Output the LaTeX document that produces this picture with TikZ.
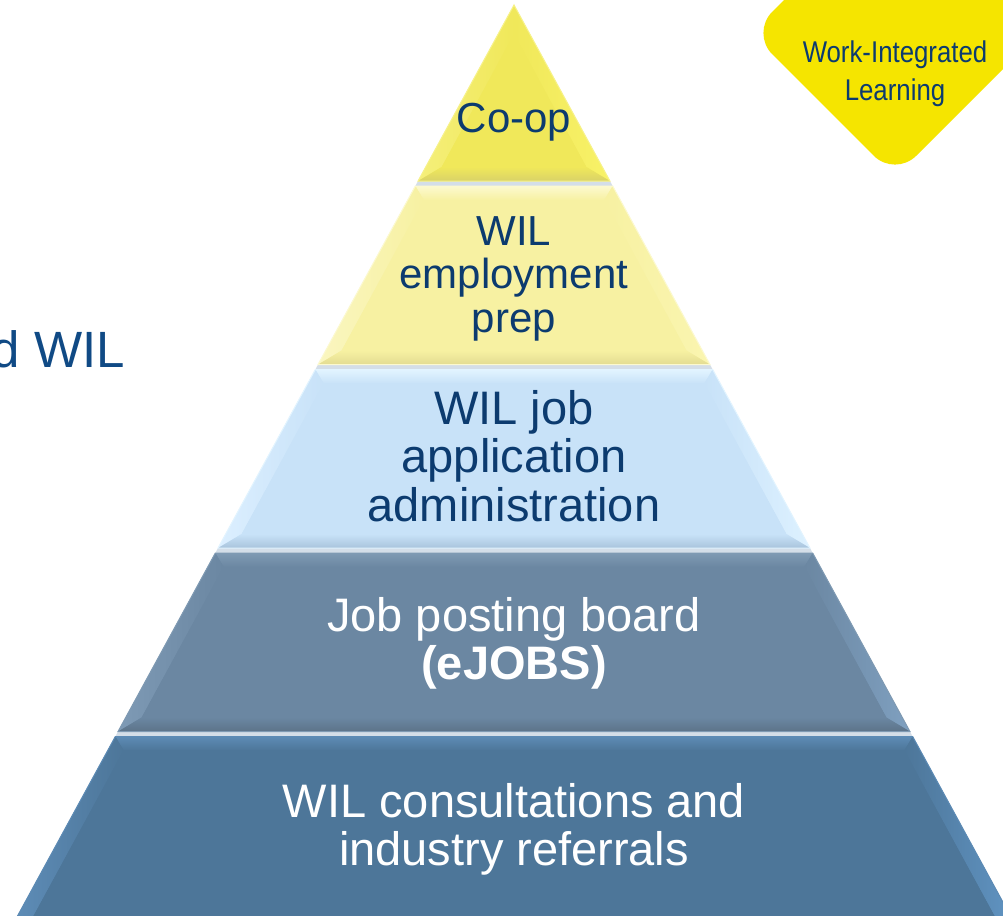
\documentclass[tikz,border=0pt]{standalone}
\usepackage{fontspec}
\setmainfont{Liberation Sans}
\newfontfamily\narrowsans[FakeStretch=0.86]{Liberation Sans}
\definecolor{navy}{HTML}{0C3B6F}
\definecolor{leftblue}{HTML}{104A85}
\definecolor{dyellow}{HTML}{F5E500}
% layer colours
\definecolor{cA}{HTML}{F0E85A}\definecolor{cAt}{HTML}{F7F28A}\definecolor{cAl}{HTML}{F5EF7A}\definecolor{cAr}{HTML}{F8F268}\definecolor{cAb}{HTML}{D9D268}
\definecolor{cB}{HTML}{F7F1A2}\definecolor{cBt}{HTML}{FCF9CF}\definecolor{cBl}{HTML}{FAF6C0}\definecolor{cBr}{HTML}{FAF5B0}\definecolor{cBb}{HTML}{E3DC92}
\definecolor{cC}{HTML}{C8E2F8}\definecolor{cCt}{HTML}{E2F4FF}\definecolor{cCl}{HTML}{DCEFFF}\definecolor{cCr}{HTML}{DDF1FF}\definecolor{cCb}{HTML}{A9C4DC}
\definecolor{cD}{HTML}{6B87A2}\definecolor{cDt}{HTML}{7F9AB3}\definecolor{cDl}{HTML}{7E9AB5}\definecolor{cDr}{HTML}{7FA0C0}\definecolor{cDb}{HTML}{5C7389}
\definecolor{cE}{HTML}{4D7699}\definecolor{cEt}{HTML}{5D8BB5}\definecolor{cEl}{HTML}{5E8DB8}\definecolor{cEr}{HTML}{6195C4}\definecolor{cEb}{HTML}{486C8C}
\definecolor{gapc}{HTML}{D4DEE8}
\tikzset{
  lbl/.style={inner sep=0pt, align=center, text=navy},
  wlbl/.style={inner sep=0pt, align=center, text=white},
  fsmall/.style={font=\fontsize{42}{43.5}\selectfont},
  fbig/.style={font=\fontsize{47}{48.3}\selectfont},
}
% #1 ytop #2 ybot #3 main #4 top #5 left #6 right #7 bottom
\newcommand\pyrlayer[7]{%
  \pgfmathsetmacro\ya{#1}\pgfmathsetmacro\yb{#2}%
  \pgfmathsetmacro\wa{(\ya-5)*0.545}%
  \pgfmathsetmacro\wb{(\yb-5)*0.545}%
  \pgfmathsetmacro\yai{max(\ya+14,5+14*1.139/0.545)}%
  \pgfmathsetmacro\ybi{\yb-14}%
  \pgfmathsetmacro\wai{max((\yai-5)*0.545-14*1.139,0)}%
  \pgfmathsetmacro\wbi{(\ybi-5)*0.545-14*1.139}%
  \fill[#3] (514-\wa,\ya) -- (514+\wa,\ya) -- (514+\wb,\yb) -- (514-\wb,\yb) -- cycle;
  \shade[top color=#4, bottom color=#3] (514-\wa,\ya) -- (514+\wa,\ya) -- (514+\wai,\yai) -- (514-\wai,\yai) -- cycle;
  \shade[left color=#5, right color=#3] (514-\wa,\ya) -- (514-\wai,\yai) -- (514-\wbi,\ybi) -- (514-\wb,\yb) -- cycle;
  \shade[left color=#3, right color=#6] (514+\wa,\ya) -- (514+\wai,\yai) -- (514+\wbi,\ybi) -- (514+\wb,\yb) -- cycle;
  \shade[top color=#3, bottom color=#7] (514-\wb,\yb) -- (514+\wb,\yb) -- (514+\wbi,\ybi) -- (514-\wbi,\ybi) -- cycle;
  \fill[#3] (514-\wai,\yai) -- (514+\wai,\yai) -- (514+\wbi,\ybi) -- (514-\wbi,\ybi) -- cycle;
  \draw[#4, line width=1pt] (514-\wa,\ya) -- (514+\wa,\ya) -- (514+\wb,\yb) -- (514-\wb,\yb) -- cycle;
}
\begin{document}
\begin{tikzpicture}[x=1pt,y=-1pt]
\useasboundingbox (0,0) rectangle (1003,915);
\clip (0,0) rectangle (1003,915);
\fill[white] (0,0) rectangle (1003,915);

% light separator strips between layers
\fill[gapc] (514-0.545*176,181) -- (514+0.545*176,181) -- (514+0.545*181,186) -- (514-0.545*181,186) -- cycle;
\fill[gapc] (514-0.545*359.5,364.5) -- (514+0.545*359.5,364.5) -- (514+0.545*364.5,369.5) -- (514-0.545*364.5,369.5) -- cycle;
\fill[gapc] (514-0.545*543,548) -- (514+0.545*543,548) -- (514+0.545*548,553) -- (514-0.545*548,553) -- cycle;
\fill[gapc] (514-0.545*726.5,731.5) -- (514+0.545*726.5,731.5) -- (514+0.545*731.5,736.5) -- (514-0.545*731.5,736.5) -- cycle;

% pyramid layers
\pyrlayer{5}{181}{cA}{cAt}{cAl}{cAr}{cAb}
\pyrlayer{186}{364.5}{cB}{cBt}{cBl}{cBr}{cBb}
\pyrlayer{369.5}{548}{cC}{cCt}{cCl}{cCr}{cCb}
\pyrlayer{553}{731.5}{cD}{cDt}{cDl}{cDr}{cDb}
\pyrlayer{736.5}{930}{cE}{cEt}{cEl}{cEr}{cEb}

% layer labels
\node[lbl, fsmall, anchor=base] (coop) at (514,132) {Co-op};
\node[lbl, fsmall] (prep) at (514,278.5) {WIL\\employment\\prep};
\node[lbl, fbig] (admin) at (514,456) {WIL job\\application\\administration};
\node[wlbl, fbig] (ejobs) at (514,643) {Job posting board\\\textbf{(eJOBS)}};
\node[wlbl, fbig] (consult) at (514,829.5) {WIL consultations and\\industry referrals};

% left cut-off title (cut at the picture's edge, as in the reference)
\node[inner sep=0pt, text=leftblue, font=\fontsize{51}{54}\selectfont, anchor=base east] (lefttitle) at (125,367) {d WIL};

% yellow rounded diamond
\fill[dyellow, rounded corners=30pt] (895,-111) -- (1039,33) -- (895,177) -- (751,33) -- cycle;
\node[lbl, font=\narrowsans\fontsize{30}{38}\selectfont] (wil) at (895,73.4) {Work-Integrated\\Learning};
\end{tikzpicture}
\end{document}
